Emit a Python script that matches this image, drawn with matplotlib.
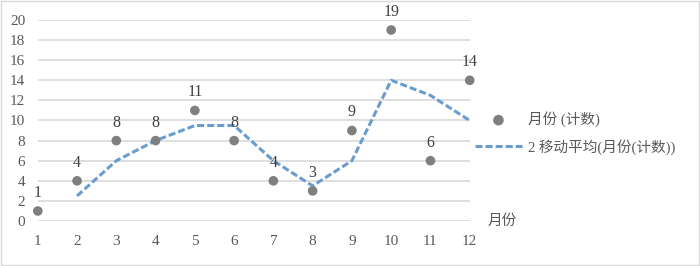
import matplotlib.pyplot as plt
from matplotlib.patches import Rectangle

plt.rcParams['font.family'] = ['Liberation Serif', 'Noto Sans CJK SC', 'DejaVu Sans']

months = [1, 2, 3, 4, 5, 6, 7, 8, 9, 10, 11, 12]
counts = [1, 4, 8, 8, 11, 8, 4, 3, 9, 19, 6, 14]
ma_months = [2, 3, 4, 5, 6, 7, 8, 9, 10, 11, 12]
ma_values = [2.5, 6, 8, 9.5, 9.5, 6, 3.5, 6, 14, 12.5, 10]
y_ticks = [0, 2, 4, 6, 8, 10, 12, 14, 16, 18, 20]

fig = plt.figure(figsize=(7, 2.66), dpi=100)
ax = fig.add_axes([0.054, 0.169, 0.617, 0.756])

ax.plot(ma_months, ma_values, color='#6a9dcf', lw=2.2, dashes=(2.3, 1.0),
        label='2 移动平均(月份(计数))', zorder=2, clip_on=False)
ax.scatter(months, counts, s=48, color='#7f7f7f', label='月份 (计数)', zorder=3,
           edgecolors='none', clip_on=False)
for m, c in zip(months, counts):
    ax.annotate(str(c), (m, c), xytext=(0, 13), textcoords='offset points',
                ha='center', va='center', fontsize=11.5, color='#404040')

ax.set_xlim(1, 12)
ax.set_ylim(0, 20)
ax.set_xticks(months)
ax.set_yticks(y_ticks)
ax.grid(axis='y', color='#d9d9d9', lw=1.2)
ax.set_axisbelow(True)
for s in ax.spines.values():
    s.set_visible(False)
ax.tick_params(length=0, labelsize=11, labelcolor='#595959')
ax.tick_params(axis='x', pad=10)
ax.tick_params(axis='y', pad=9)

fig.text(488 / 700, 1 - 221 / 266, '月份', fontsize=10.5, color='#595959',
         ha='left', va='center')

handles, labels = ax.get_legend_handles_labels()
fig.legend(handles[::-1], labels[::-1], loc='center left',
           bbox_to_anchor=(462 / 700, 1 - 133 / 266), frameon=False,
           fontsize=10.5, labelcolor='#595959', handlelength=3.2,
           handletextpad=0.4, labelspacing=0.8, markerscale=1.1)

fig.patches.append(Rectangle((0.001, 0.002), 0.997, 0.995, transform=fig.transFigure,
                             fill=False, edgecolor='#d9d9d9', lw=1))
fig.savefig('out.png', dpi=100)
